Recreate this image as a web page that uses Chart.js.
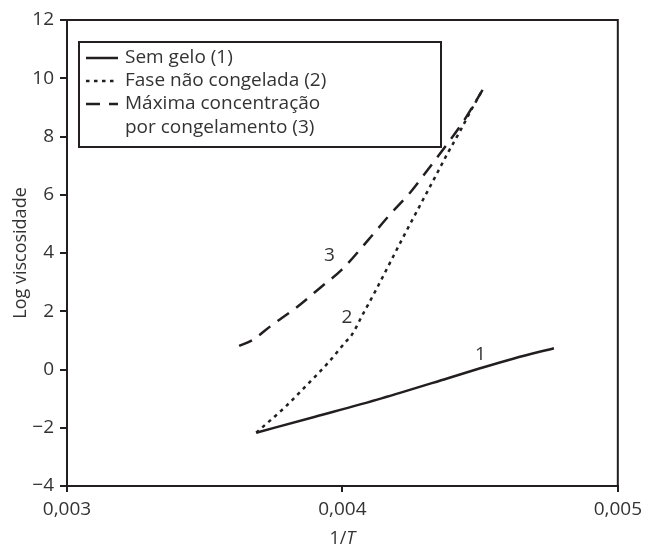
<!DOCTYPE html>
<html>
<head>
<meta charset="utf-8">
<script src="https://cdn.jsdelivr.net/npm/chart.js@4.4.1/dist/chart.umd.min.js"></script>
<style>
  html, body { margin: 0; padding: 0; background: #fff; }
  #wrap { width: 648px; height: 549px; }
</style>
</head>
<body>
<div id="wrap"><canvas id="viscChart" width="648" height="549"></canvas></div>
<script>
// curva 1: sem gelo
const semGeloX = [0.003687, 0.003901, 0.004142, 0.004383, 0.004503, 0.004623, 0.004768];
const semGeloY = [-2.17, -1.62, -0.99, -0.30, 0.05, 0.38, 0.73];
// curva 2: fase não congelada
const faseX = [0.003687, 0.003793, 0.003865, 0.003949, 0.004010, 0.004034, 0.004076, 0.004118, 0.004166, 0.004226, 0.004286, 0.004335, 0.004383, 0.004431, 0.004467, 0.004509];
const faseY = [-2.17, -1.28, -0.59, 0.24, 0.93, 1.19, 1.93, 2.66, 3.54, 4.64, 5.71, 6.58, 7.44, 8.25, 8.90, 9.60];
// curva 3: máxima concentração por congelamento
const maxConcX = [0.003625, 0.003673, 0.003745, 0.003829, 0.003925, 0.003997, 0.004094, 0.004166, 0.004250, 0.004310, 0.004383, 0.004443, 0.004509];
const maxConcY = [0.81, 1.01, 1.53, 2.10, 2.85, 3.42, 4.45, 5.25, 6.12, 6.86, 7.77, 8.57, 9.60];

const xTicks = [0.003, 0.004, 0.005];
const yTicks = [-4, -2, 0, 2, 4, 6, 8, 10, 12];

const legendLabels = [['Sem gelo (1)'], ['Fase não congelada (2)'], ['Máxima concentração', 'por congelamento (3)']];
// rótulos numéricos junto às curvas: [texto, x, y]
const curveTags = [['1', 0.004501, 0.50], ['2', 0.004016, 1.79], ['3', 0.003953, 3.90]];

const ink = '#231f20';
const textInk = '#333';
const fontFamily = '"Open Sans", Lato, sans-serif';

function toPoints(xs, ys) {
  return xs.map((x, i) => ({x: x, y: ys[i]}));
}

const data = {
  datasets: [
    {
      label: legendLabels[0].join(' '),
      data: toPoints(semGeloX, semGeloY),
      borderColor: ink,
      borderWidth: 2.5,
      borderDash: [],
      cubicInterpolationMode: 'monotone',
      pointRadius: 0
    },
    {
      label: legendLabels[1].join(' '),
      data: toPoints(faseX, faseY),
      borderColor: ink,
      borderWidth: 2.5,
      borderDash: [3.5, 4.5],
      cubicInterpolationMode: 'monotone',
      pointRadius: 0
    },
    {
      label: legendLabels[2].join(' '),
      data: toPoints(maxConcX, maxConcY),
      borderColor: ink,
      borderWidth: 2.5,
      borderDash: [14, 9],
      cubicInterpolationMode: 'monotone',
      pointRadius: 0
    }
  ]
};

// moldura, legenda em caixa, rótulos das curvas e título do eixo x
const extrasPlugin = {
  id: 'extras',
  afterDraw(chart) {
    const ctx = chart.ctx;
    const area = chart.chartArea;
    const xs = chart.scales.x;
    const ys = chart.scales.y;
    ctx.save();

    // lados superior e direito da moldura
    ctx.strokeStyle = ink;
    ctx.lineWidth = 2;
    ctx.beginPath();
    ctx.moveTo(area.left, area.top);
    ctx.lineTo(area.right, area.top);
    ctx.lineTo(area.right, area.bottom);
    ctx.stroke();

    // legenda
    const box = {left: 79, top: 42, right: 441, bottom: 147};
    ctx.lineWidth = 2;
    ctx.strokeRect(box.left, box.top, box.right - box.left, box.bottom - box.top);
    const rowY = [58, 81, 104, 128];
    ctx.font = '19px ' + fontFamily;
    ctx.fillStyle = textInk;
    ctx.textBaseline = 'middle';
    ctx.textAlign = 'left';
    let row = 0;
    chart.data.datasets.forEach((ds, i) => {
      ctx.setLineDash(ds.borderDash);
      ctx.lineWidth = ds.borderWidth;
      ctx.beginPath();
      ctx.moveTo(86, rowY[row]);
      ctx.lineTo(118, rowY[row]);
      ctx.stroke();
      ctx.setLineDash([]);
      legendLabels[i].forEach(line => {
        ctx.fillText(line, 125, rowY[row]);
        row++;
      });
    });

    // números das curvas
    ctx.font = '19px ' + fontFamily;
    ctx.textAlign = 'center';
    curveTags.forEach(t => {
      ctx.fillText(t[0], xs.getPixelForValue(t[1]), ys.getPixelForValue(t[2]));
    });

    // título do eixo x: 1/T com T em itálico
    const cx = (area.left + area.right) / 2;
    const ty = 539;
    ctx.font = '18px ' + fontFamily;
    const w1 = ctx.measureText('1/').width;
    ctx.font = 'italic 18px ' + fontFamily;
    const w2 = ctx.measureText('T').width;
    const sx = cx - (w1 + w2) / 2;
    ctx.textAlign = 'left';
    ctx.font = '18px ' + fontFamily;
    ctx.fillText('1/', sx, ty);
    ctx.font = 'italic 18px ' + fontFamily;
    ctx.fillText('T', sx + w1, ty);

    ctx.restore();
  }
};

const config = {
  type: 'line',
  data: data,
  plugins: [extrasPlugin],
  options: {
    responsive: false,
    animation: false,
    layout: {
      padding: {left: 0, top: 20, right: 27, bottom: 0}
    },
    plugins: {
      legend: {display: false},
      tooltip: {enabled: false}
    },
    scales: {
      x: {
        type: 'linear',
        min: 0.003,
        max: 0.005,
        afterBuildTicks: (scale) => { scale.ticks = xTicks.map(v => ({value: v})); },
        afterFit: (scale) => { scale.height = 63; },
        border: {display: true, color: ink, width: 2},
        grid: {drawOnChartArea: false, tickLength: 6, color: ink, lineWidth: 2},
        ticks: {
          color: textInk,
          padding: 6,
          maxRotation: 0,
          font: {family: fontFamily, size: 19},
          callback: (v) => v.toFixed(3).replace('.', ',')
        }
      },
      y: {
        min: -4,
        max: 12,
        afterBuildTicks: (scale) => { scale.ticks = yTicks.map(v => ({value: v})); },
        afterFit: (scale) => { scale.width = 67; },
        border: {display: true, color: ink, width: 2},
        grid: {drawOnChartArea: false, tickLength: 7, color: ink, lineWidth: 2},
        title: {
          display: true,
          text: 'Log viscosidade',
          color: textInk,
          padding: {top: 10, bottom: 0},
          font: {family: fontFamily, size: 18}
        },
        ticks: {
          color: textInk,
          padding: 6,
          font: {family: fontFamily, size: 19},
          callback: (v) => v < 0 ? '\u2212' + Math.abs(v) : String(v)
        }
      }
    }
  }
};

const viscChart = new Chart(document.getElementById('viscChart'), config);
</script>
</body>
</html>
